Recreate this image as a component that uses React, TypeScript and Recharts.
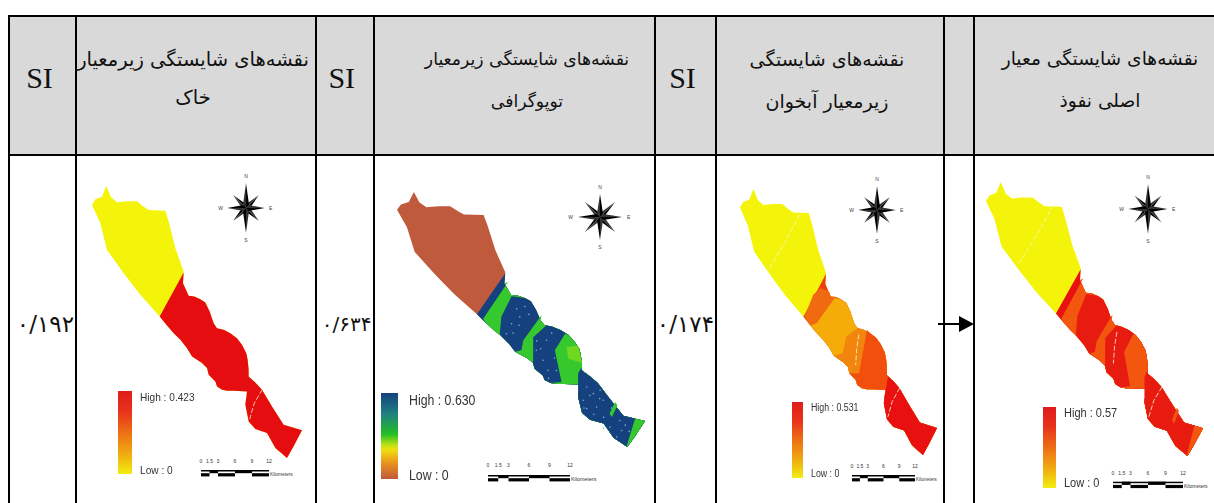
import { ScatterChart, Scatter, XAxis, YAxis } from 'recharts'

// map outline (map units)
const stripTop = [
  [275, 135], [285, 118], [305, 110], [318, 78], [332, 112], [350, 127], [380, 124], [410, 124], [430, 140], [445, 150], [495, 152],
  [505, 185], [525, 265], [550, 335], [548, 370], [565, 408], [582, 410], [600, 418], [615, 428], [628, 455], [640, 490], [650, 505],
  [670, 510], [690, 520], [710, 535], [725, 555], [738, 580], [742, 600], [745, 630], [745, 650], [765, 668], [785, 690], [815, 740],
  [850, 795], [905, 812], [880, 860], [860, 895],
]
const stripBottom = [
  [275, 135], [300, 190], [320, 270], [370, 340], [420, 405], [478, 470], [500, 497], [520, 520], [540, 540], [560, 565], [575, 590],
  [590, 600], [605, 610], [620, 625], [625, 645], [645, 665], [650, 680], [665, 690], [680, 693], [700, 693], [740, 695], [735, 735],
  [745, 785], [765, 808], [800, 820], [825, 865], [860, 895],
]

// zone boundaries, top edge to bottom edge
const northEdge = [[550, 338], [478, 470]]
const bandEdges = [
  [[557, 366], [494, 484]],
  [[566, 412], [540, 478], [536, 532]],
  [[642, 473], [596, 553], [591, 585]],
  [[655, 505], [621, 543], [621, 617]],
  [[702, 532], [676, 585], [693, 687]],
  [[743, 640], [735, 660], [735, 703]],
  [[880, 804], [858, 893]],
]
const aquiferEdges = [
  [[560, 393], [532, 382], [509, 403], [482, 470]],
  [[578, 413], [520, 490]],
  [[658, 500], [615, 531], [603, 582]],
  [[681, 510], [656, 644]],
  [[748, 654], [741, 695]],
]
const lightStripe = [[829, 751], [835, 761], [821, 799], [815, 788]]
const lightPatch = [[706, 575], [735, 570], [745, 625], [710, 612]]
const speckles = [
  [579, 452], [566, 500], [553, 532], [655, 553], [646, 617], [659, 649], [757, 703], [774, 724], [791, 713],
  [782, 767], [757, 772], [816, 831], [841, 810], [833, 863], [629, 585], [587, 478], [799, 745], [748, 745], [846, 842],
  [600, 445], [585, 505], [610, 470], [570, 530], [668, 530], [640, 580], [675, 610], [660, 675], [765, 730], [750, 770],
  [790, 740], [775, 790], [800, 800], [820, 770], [855, 825], [865, 845], [800, 835], [630, 555], [680, 650],
]
const seamSouth = [[786, 689], [762, 730], [748, 778]]
const seamNorth = [[370, 321], [420, 240], [467, 153]]
const seamMiddle = [[655, 525], [648, 570], [645, 619]]

const soilColors = ['#f4f40a', '#e60d10']
const topoColors = ['#c05a3c', '#15417f', '#35c92e', '#15417f', '#35c92e', '#15417f', '#35c92e', '#15417f', '#35c92e']
const aquiferColors = ['#f4f40a', '#ee3d10', '#ef6a10', '#f5ac08', '#f2850d', '#f24f0f', '#e81010']
const perviousColors = ['#f4f40a', '#e81010', '#f2560f', '#e81b10', '#f2560f', '#e81b10', '#f2560f', '#e81b10', '#f2560f']

const headers = [
  ['نقشه‌های شایستگی زیرمعیار', 'خاک'],
  ['نقشه‌های شایستگی زیرمعیار', 'توپوگرافی'],
  ['نقشه‌های شایستگی', 'زیرمعیار آبخوان'],
  ['نقشه‌های شایستگی معیار', 'اصلی نفوذ'],
]
const siLabels = ['SI', 'SI', 'SI']
const siValues = ['۰/۱۹۲', '۰/۶۳۴', '۰/۱۷۴']
const highLabels = ['High : 0.423', 'High : 0.630', 'High : 0.531', 'High : 0.57']
const lowLabels = ['Low : 0', 'Low : 0', 'Low : 0', 'Low : 0']
const scaleTicks = ['0', '1.5', '3', '6', '9', '12']
const scaleUnit = 'Kilometers'

const redRamp = 'linear-gradient(#e01c1c, #e8341a 25%, #ee7a14 55%, #f0b010 78%, #f2ee10)'
const topoRamp = 'linear-gradient(#15417f, #1f7f80 24%, #24bf24 48%, #b8e015 60%, #f0e010 66%, #e89020 82%, #c05a3c)'

const COLS = [9, 76, 316, 373.5, 655, 716, 944, 974]
const HEAD = [
  { cx: 193, size: 19.5, top: 41, lh: 38 },
  { cx: 527, size: 17.2, top: 38, lh: 42 },
  { cx: 827, size: 19, top: 38, lh: 42 },
  { cx: 1100, size: 18.6, top: 38, lh: 42 },
]
const VALUE_SIZES = [23, 20, 23]
const PANELS = [
  { map: [92, 186, 210, 272], rose: [245.7, 207.7, 22, 29], bar: [118.3, 390.7, 13.3, 83.3], ramp: redRamp, text: [140, 397, 470, 11.5], scale: [201, 470, 68, 464, 25] },
  { map: [397, 192, 248, 255], rose: [600, 217, 26, 27], bar: [381, 393.3, 16.7, 86], ramp: topoRamp, text: [409, 400, 475, 14], scale: [488.3, 475, 82, 468, 28] },
  { map: [740, 189, 197, 266], rose: [877, 210, 22, 28], bar: [791.7, 402.3, 11.7, 76], ramp: redRamp, text: [810.7, 408, 474, 10], scale: [851.7, 475, 63, 469, 23] },
  { map: [986, 182, 217, 274], rose: [1148, 209, 23, 29], bar: [1042.7, 407.3, 13.3, 81], ramp: redRamp, text: [1064, 413, 483, 12.5], scale: [1112.7, 481.7, 70, 476, 26] },
]

const SERIF = '"Liberation Serif", serif'
const PERSIAN = '"DejaVu Sans", sans-serif'
const ARIAL = '"Liberation Sans", Arial, sans-serif'

const toRows = (pts: number[][]) => pts.map(([x, y]) => ({ x, y }))

// everything east of a zone boundary, painted over the zones before it
function zoneFrom(edge: number[][]) {
  const first = edge[0]
  const last = edge[edge.length - 1]
  const top = stripTop.filter((p) => p[1] > first[1])
  const bottom = stripBottom.filter((p) => p[1] > last[1]).reverse()
  return [...[...edge].reverse(), ...top, ...bottom]
}

const wholeStrip = [...stripTop, ...[...stripBottom].reverse()]
const bands = [wholeStrip, zoneFrom(northEdge), ...bandEdges.map(zoneFrom)]
const aquiferZones = [wholeStrip, zoneFrom(northEdge), ...aquiferEdges.map(zoneFrom)]
const NoDot = () => <g />
const Speck = (p: any) => <circle cx={p.cx} cy={p.cy} r={0.8} fill="#7fb0c8" />

function StripMap({ box, zones, colors, stripe, patch, seams, specks }: any) {
  return (
    <div style={{ position: 'absolute', left: box[0], top: box[1], filter: 'blur(0.35px)' }}>
      <ScatterChart width={box[2]} height={box[3]} margin={{ top: 0, right: 0, bottom: 0, left: 0 }} style={{ overflow: 'visible' }}>
        <XAxis type="number" dataKey="x" domain={[275, 905]} hide />
        <YAxis type="number" dataKey="y" domain={[78, 895]} reversed hide />
        {zones.map((z: number[][], i: number) => (
          <Scatter key={i} data={toRows(z)} shape={NoDot} line={{ fill: colors[i], stroke: 'none' }} lineJointType="linear" isAnimationActive={false} />
        ))}
        {patch && <Scatter data={toRows(patch)} shape={NoDot} line={{ fill: '#6fd81f', stroke: 'none' }} lineJointType="linear" isAnimationActive={false} />}
        {stripe && <Scatter data={toRows(lightStripe)} shape={NoDot} line={{ fill: stripe, stroke: 'none' }} lineJointType="linear" isAnimationActive={false} />}
        {specks && <Scatter data={toRows(speckles)} shape={Speck} isAnimationActive={false} />}
        {(seams || []).map((s: number[][], i: number) => (
          <Scatter key={'s' + i} data={toRows(s)} shape={NoDot} line={{ fill: 'none', stroke: '#fff4d0', strokeWidth: 0.8, strokeDasharray: '5 2' }} lineJointType="linear" isAnimationActive={false} />
        ))}
      </ScatterChart>
    </div>
  )
}

function Rose({ cx, cy, rx, ry }: { cx: number; cy: number; rx: number; ry: number }) {
  const ax = rx * 0.85
  const ay = ry * 0.85
  const d = Math.min(rx, ry) * 0.58
  // tip of each ray, with its half-width at the base
  const rays = [
    [0, -ay, 3], [0, ay, 3], [-ax, 0, 3], [ax, 0, 3],
    [d, d, 2.8], [-d, d, 2.8], [d, -d, 2.8], [-d, -d, 2.8],
  ]
  const basePoint = (x: number, y: number, w: number, side: number) => {
    const len = Math.hypot(x, y)
    const nx = (-y / len) * w * side
    const ny = (x / len) * w * side
    return `${x * 0.14 + nx},${y * 0.14 + ny}`
  }
  return (
    <svg width={10} height={10} style={{ position: 'absolute', left: cx - 5, top: cy - 5, overflow: 'visible' }}>
      <g transform="translate(5 5)">
        {rays.slice(4).concat(rays.slice(0, 4)).map(([x, y, w], i) => (
          <g key={i}>
            <polygon points={`0,0 ${x},${y} ${basePoint(x, y, w, 1)}`} fill="#000" />
            <polygon points={`0,0 ${x},${y} ${basePoint(x, y, w, -1)}`} fill="#333" />
          </g>
        ))}
        <text x={0} y={-ry - 1} fontSize={5} textAnchor="middle" fontFamily={ARIAL} fill="#444">N</text>
        <text x={0} y={ry + 5} fontSize={5} textAnchor="middle" fontFamily={ARIAL} fill="#444">S</text>
        <text x={-rx - 1} y={2} fontSize={5} textAnchor="end" fontFamily={ARIAL} fill="#444">W</text>
        <text x={rx + 1} y={2} fontSize={5} fontFamily={ARIAL} fill="#444">E</text>
      </g>
    </svg>
  )
}

function ScaleBar({ x, y, w, labelY, unitW }: any) {
  const stops = [0, 1.5, 3, 6, 9, 12]
  const px = (v: number) => (v / 12) * w
  return (
    <svg width={w + unitW + 10} height={24} style={{ position: 'absolute', left: x, top: labelY - 5, overflow: 'visible' }}>
      <g transform={`translate(0 ${y - labelY + 5})`}>
        <rect x={0} y={0} width={w} height={1.5} fill="#000" />
        {stops.slice(0, -1).map((s, i) => (
          <rect key={i} x={px(s)} y={i % 2 === 1 ? 0 : 3.2} width={px(stops[i + 1]) - px(s)} height={3.2} fill="#000" />
        ))}
        <text x={w + 1} y={6} fontSize={unitW / 5.2} fontFamily={ARIAL} fill="#333">{scaleUnit}</text>
      </g>
      {stops.map((s, i) => (
        <text key={i} x={px(s)} y={4} fontSize={5} textAnchor="middle" fontFamily={ARIAL} fill="#333">{scaleTicks[i]}</text>
      ))}
    </svg>
  )
}

export default function App() {
  const maps = [
    { zones: [wholeStrip, zoneFrom(northEdge)], colors: soilColors, seams: [seamSouth] },
    { zones: bands, colors: topoColors, patch: lightPatch, stripe: '#35c92e', specks: true },
    { zones: aquiferZones, colors: aquiferColors, seams: [seamNorth, seamMiddle, seamSouth] },
    { zones: bands, colors: perviousColors, stripe: '#f2560f', seams: [seamNorth, seamMiddle, seamSouth] },
  ]
  const legendText = (size: number) => ({
    position: 'absolute' as const, fontFamily: ARIAL, fontSize: size, lineHeight: '18px', color: '#333', whiteSpace: 'nowrap' as const,
    transform: 'scaleX(0.88)', transformOrigin: 'left center',
  })
  return (
    <div style={{ position: 'absolute', left: 0, top: 0, width: 1214, height: 503, background: '#fff', overflow: 'hidden' }}>
      <div style={{ position: 'absolute', left: COLS[0], top: 16, width: 1214 - COLS[0], height: 139, background: '#d9d9d9' }} />
      {[16, 155].map((y) => (
        <div key={y} style={{ position: 'absolute', left: COLS[0] - 1, top: y - 1, width: 1214 - COLS[0] + 1, height: 2, background: '#000' }} />
      ))}
      {COLS.map((x) => (
        <div key={x} style={{ position: 'absolute', left: x - 1, top: 15, width: 2, height: 488, background: '#000' }} />
      ))}
      {headers.map((lines, i) => (
        <div key={i} dir="rtl" style={{ position: 'absolute', left: HEAD[i].cx - 150, top: HEAD[i].top, width: 300, textAlign: 'center', fontFamily: PERSIAN, fontSize: HEAD[i].size, lineHeight: `${HEAD[i].lh}px`, color: '#111', whiteSpace: 'nowrap' }}>
          {lines.map((l) => <div key={l}>{l}</div>)}
        </div>
      ))}
      {siLabels.map((s, i) => (
        <div key={i} style={{ position: 'absolute', left: COLS[i * 2] - 3, top: 59, width: COLS[i * 2 + 1] - COLS[i * 2], textAlign: 'center', fontFamily: SERIF, fontSize: 30, lineHeight: '38px', color: '#111' }}>{s}</div>
      ))}
      {siValues.map((s, i) => (
        <div key={i} style={{ position: 'absolute', left: COLS[i * 2], top: 312, width: COLS[i * 2 + 1] - COLS[i * 2] - 2, textAlign: 'right', fontFamily: PERSIAN, fontSize: VALUE_SIZES[i], lineHeight: '24px', color: '#111', whiteSpace: 'nowrap' }}>{s}</div>
      ))}
      <svg width={50} height={24} style={{ position: 'absolute', left: 936, top: 312 }}>
        <line x1={2} y1={12} x2={26} y2={12} stroke="#000" strokeWidth={2} />
        <polygon points="23,4 38,12 23,20" fill="#000" />
      </svg>
      {PANELS.map((p, i) => (
        <div key={i}>
          <StripMap box={p.map} {...maps[i]} />
          <Rose cx={p.rose[0]} cy={p.rose[1]} rx={p.rose[2]} ry={p.rose[3]} />
          <div style={{ position: 'absolute', left: p.bar[0], top: p.bar[1], width: p.bar[2], height: p.bar[3], background: p.ramp, filter: 'blur(0.3px)' }} />
          <div style={{ ...legendText(p.text[3]), left: p.text[0], top: p.text[1] - 9 }}>{highLabels[i]}</div>
          <div style={{ ...legendText(p.text[3]), left: p.text[0], top: p.text[2] - 9 }}>{lowLabels[i]}</div>
          <ScaleBar x={p.scale[0]} y={p.scale[1]} w={p.scale[2]} labelY={p.scale[3]} unitW={p.scale[4]} />
        </div>
      ))}
    </div>
  )
}
